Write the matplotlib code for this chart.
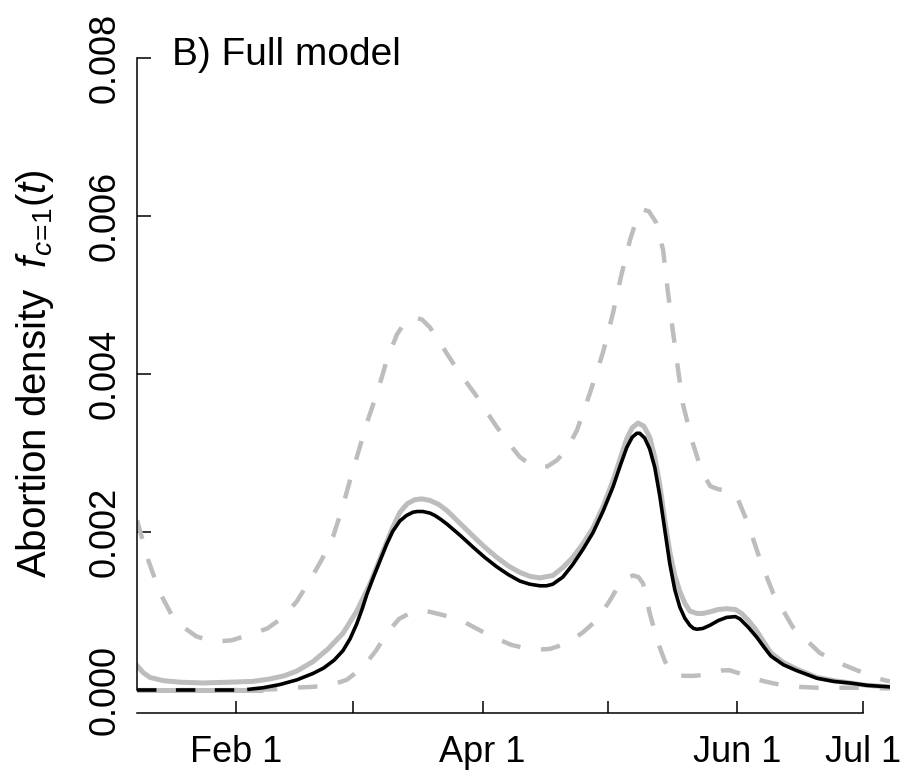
import matplotlib as mpl
mpl.use('Agg')
import matplotlib.pyplot as plt

plt.rcParams['font.family'] = ['Liberation Sans', 'DejaVu Sans']
plt.rcParams['mathtext.fontset'] = 'custom'
plt.rcParams['mathtext.rm'] = 'Liberation Sans'
plt.rcParams['mathtext.it'] = 'Liberation Sans:italic'
plt.rcParams['lines.scale_dashes'] = False

# x = day of year (0 = Jan 1), y = abortion density

# black: fitted density
fit_day = [34.1, 37.5, 41.5, 45.6, 49.4, 52.0, 54.5, 56.6, 58.3, 59.9, 61.2, 62.3,
           63.8, 65.4, 67.0, 68.5, 70.2, 71.8, 73.3, 74.3, 75.7, 77.4, 78.6, 80.0,
           81.5, 84.6, 87.7, 90.5, 93.4, 96.2, 98.9, 101.3, 103.7, 105.3, 106.8,
           109.2, 111.6, 114.0, 116.4, 118.8, 121.2, 123.0, 124.5, 125.8, 126.9,
           127.6, 128.8, 130.0, 131.2, 132.4, 133.6, 134.8, 136.0, 137.2, 138.4,
           139.6, 140.5, 141.3, 142.7, 144.4, 146.4, 148.4, 150.5, 151.6, 153.5,
           155.6, 157.4, 159.0, 162.0, 165.0, 170.0, 174.0, 177.9, 182.0, 187.5]
fit_val = [0.00001, 0.00003, 0.00007, 0.00013, 0.00021, 0.00028, 0.00038, 0.00050,
           0.00065, 0.00084, 0.00103, 0.00121, 0.00142, 0.00163, 0.00184, 0.00201,
           0.00214, 0.00221, 0.00225, 0.00226, 0.00226, 0.00224, 0.00221, 0.00216,
           0.00210, 0.00196, 0.00181, 0.00168, 0.00156, 0.00146, 0.00138, 0.00134,
           0.00132, 0.00132, 0.00134, 0.00143, 0.00159, 0.00178, 0.00199, 0.00226,
           0.00257, 0.00285, 0.00307, 0.00320, 0.00325, 0.00325, 0.00319, 0.00305,
           0.00282, 0.00246, 0.00203, 0.00160, 0.00127, 0.00105, 0.00091, 0.00082,
           0.00078, 0.00077, 0.00078, 0.00082, 0.00088, 0.00092, 0.00093, 0.00090,
           0.00080, 0.00067, 0.00054, 0.00043, 0.00032, 0.00025, 0.00015, 0.00011,
           0.00009, 0.00006, 0.00004]

# grey solid: alternative fit
alt_day = [7.3, 8.8, 10.4, 13.5, 17.6, 23.0, 29.6, 35.0, 39.0, 42.5, 45.5, 49.4,
           53.0, 56.6, 59.9, 63.1, 66.5, 68.5, 70.2, 72.0, 73.8, 75.5, 77.4, 79.5,
           81.5, 84.6, 87.7, 90.5, 93.4, 96.2, 98.9, 101.3, 103.7, 106.8, 109.2,
           111.6, 114.0, 116.4, 118.8, 121.2, 123.0, 124.5, 125.8, 127.2, 128.6,
           130.0, 131.2, 132.4, 133.6, 134.8, 136.0, 137.2, 138.4, 139.6, 141.3,
           142.7, 144.4, 146.4, 148.4, 150.5, 152.0, 153.8, 155.6, 157.4, 159.0,
           162.0, 165.0, 170.0, 174.0, 177.9, 182.0, 187.5]
alt_val = [0.00031, 0.00022, 0.00016, 0.00012, 0.00010, 0.00009, 0.00010, 0.00011,
           0.00014, 0.00018, 0.00024, 0.00036, 0.00052, 0.00072, 0.00100, 0.00135,
           0.00180, 0.00206, 0.00225, 0.00236, 0.00241, 0.00242, 0.00240, 0.00235,
           0.00227, 0.00211, 0.00195, 0.00181, 0.00168, 0.00157, 0.00149, 0.00144,
           0.00142, 0.00145, 0.00155, 0.00168, 0.00185, 0.00205, 0.00232, 0.00265,
           0.00294, 0.00318, 0.00332, 0.00338, 0.00334, 0.00320, 0.00295, 0.00260,
           0.00215, 0.00175, 0.00145, 0.00125, 0.00110, 0.00100, 0.00097, 0.00097,
           0.00099, 0.00102, 0.00103, 0.00102, 0.00097, 0.00087, 0.00075, 0.00060,
           0.00047, 0.00035, 0.00027, 0.00016, 0.00012, 0.00009, 0.00006, 0.00004]

# grey dashed: upper bound
upper_day = [7.3, 9.95, 12.8, 15.5, 18.3, 21.5, 25.5, 30.0, 34.1, 38.5, 42.2, 45.5,
             48.7, 51.5, 54.2, 56.3, 58.3, 60.3, 62.3, 65.0, 67.1, 69.5, 71.5, 73.5,
             75.5, 77.4, 80.0, 82.9, 85.8, 88.7, 91.0, 93.4, 96.2, 98.9, 101.0,
             103.0, 105.5, 107.8, 110.2, 112.6, 115.7, 118.8, 121.2, 123.2, 125.3,
             127.0, 128.4, 129.8, 131.5, 133.2, 134.3, 135.5, 136.7, 137.9, 140.1,
             142.5, 144.5, 146.5, 148.4, 150.9, 153.5, 156.4, 159.5, 164.2, 170.7,
             175.0, 179.6, 185.8, 187.5]
upper_val = [0.00215, 0.00165, 0.00123, 0.00096, 0.00080, 0.00068, 0.00061, 0.00063,
             0.00070, 0.00078, 0.00092, 0.00112, 0.00139, 0.00165, 0.00194, 0.00228,
             0.00266, 0.00302, 0.00338, 0.00380, 0.00418, 0.00450, 0.00466, 0.00472,
             0.00469, 0.00459, 0.00438, 0.00414, 0.00392, 0.00371, 0.00352, 0.00333,
             0.00313, 0.00295, 0.00287, 0.00282, 0.00283, 0.00291, 0.00305, 0.00329,
             0.00376, 0.00427, 0.00477, 0.00525, 0.00570, 0.00598, 0.00608, 0.00606,
             0.00592, 0.00557, 0.00506, 0.00456, 0.00409, 0.00363, 0.00316, 0.00276,
             0.00258, 0.00254, 0.00253, 0.00244, 0.00211, 0.00165, 0.00123, 0.00080,
             0.00047, 0.00035, 0.00025, 0.00013, 0.00011]

# grey dashed: lower bound
lower_day = [7.3, 20.0, 30.0, 40.0, 44.6, 49.0, 53.5, 57.5, 61.4, 64.5, 67.1, 70.0,
             72.8, 75.7, 77.4, 80.5, 84.6, 88.5, 92.5, 97.0, 102.1, 106.0, 110.2,
             114.0, 117.4, 120.3, 122.9, 124.6, 126.0, 127.3, 128.4, 129.2, 130.0,
             131.2, 132.4, 133.6, 134.8, 136.0, 138.5, 140.5, 142.7, 145.5, 147.5,
             149.2, 151.5, 153.9, 157.5, 161.8, 166.0, 170.0, 176.0, 181.9, 187.5]
lower_val = [0.00000, 0.00000, 0.00000, 0.00001, 0.00003, 0.00004, 0.00006, 0.00013,
             0.00029, 0.00050, 0.00072, 0.00090, 0.00098, 0.00101, 0.00099, 0.00095,
             0.00089, 0.00078, 0.00067, 0.00057, 0.00051, 0.00052, 0.00059, 0.00073,
             0.00089, 0.00112, 0.00135, 0.00142, 0.00145, 0.00143, 0.00135, 0.00118,
             0.00097, 0.00075, 0.00054, 0.00037, 0.00025, 0.00019, 0.00018, 0.00018,
             0.00019, 0.00022, 0.00025, 0.00025, 0.00021, 0.00016, 0.00011, 0.00006,
             0.00004, 0.00003, 0.00003, 0.00003, 0.00002]

# early-season segment near zero
zero_day = [7.3, 37.5]
zero_val = [0.0, 0.0]
zero_dash_day = [7.3, 34.1]

tick_days = [31, 59, 90, 120, 151, 181]
tick_labels = ['Feb 1', '', 'Apr 1', '', 'Jun 1', 'Jul 1']
ytick_vals = [0.0, 0.002, 0.004, 0.006, 0.008]
ytick_labels = ['0.000', '0.002', '0.004', '0.006', '0.008']

grey = '#bdbdbd'

fig = plt.figure(figsize=(9.03, 7.71), dpi=100)
ax = fig.add_axes([137 / 903, 1 - 713 / 771, (890 - 137) / 903, 680 / 771])

ax.plot(upper_day, upper_val, color=grey, lw=3.2, dashes=(14, 15))
ax.plot(lower_day, lower_val, color=grey, lw=3.2, dashes=(14, 15))
ax.plot(zero_day, zero_val, color=grey, lw=3.6, solid_capstyle='butt')
ax.plot(alt_day, alt_val, color=grey, lw=3.6)
ax.plot(zero_dash_day, zero_val, color='black', lw=2.6, dashes=(14, 14))
ax.plot(fit_day, fit_val, color='black', lw=2.6)

ax.set_xlim(7.3, 187.5)
ax.set_ylim(-0.00029, 0.008316)

for s in ['top', 'right']:
    ax.spines[s].set_visible(False)
ax.spines['left'].set_bounds(0, 0.008)
ax.spines['bottom'].set_bounds(7.3, 181)
for s in ['left', 'bottom']:
    ax.spines[s].set_linewidth(1.1)

ax.set_xticks(tick_days)
ax.set_xticklabels(tick_labels)
ax.set_yticks(ytick_vals)
ax.set_yticklabels(ytick_labels, rotation=90, va='center')
ax.tick_params(axis='x', direction='in', length=8.6, width=1.1, labelsize=26, pad=16)
ax.tick_params(axis='y', direction='in', length=10, width=1.1, labelsize=26, pad=10)

fig.text(35 / 903, 1 - 374 / 771, 'Abortion density  $f_{c\\!=\\!1}(t)$',
         rotation=90, ha='center', va='center', fontsize=29)
fig.text(172 / 903, 1 - 65 / 771, 'B) Full model', ha='left', va='baseline', fontsize=28)

fig.savefig('out.png', dpi=100)
